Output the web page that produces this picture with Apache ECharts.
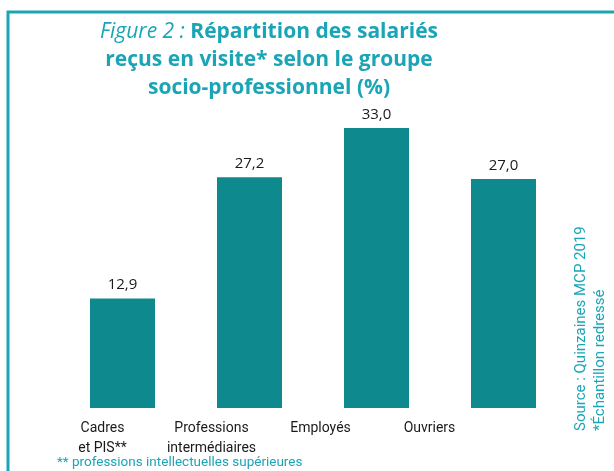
<!DOCTYPE html>
<html>
<head>
<meta charset="utf-8">
<script src="https://cdn.jsdelivr.net/npm/echarts@6/dist/echarts.min.js"></script>
<style>
  html, body { margin: 0; padding: 0; background: #fff; }
  #main { width: 614px; height: 471px; }
</style>
</head>
<body>
<div id="main"></div>
<script>
// categories and values
var categories = ['Cadres et PIS**', 'Professions intermédiaires', 'Employés', 'Ouvriers'];
var axisLabels = ['Cadres\net PIS**', 'Professions\nintermédiaires', 'Employés', 'Ouvriers'];
var values = [12.9, 27.2, 33.0, 27.0];

var teal = '#1aa5b7'; // titre, cadre, notes
var barColor = '#0e898d';

var myChart = echarts.init(document.getElementById('main'));

var option = {
  animation: false,
  textStyle: { fontFamily: 'Open Sans' },
  title: { // titre sur 3 lignes
    left: 264,
    top: 13,
    textAlign: 'center',
    text: '{i|Figure 2 :} Répartition des salariés\nreçus en visite* selon le groupe\nsocio-professionnel (%)',
    textStyle: {
      color: teal,
      fontSize: 21,
      fontWeight: 'bold',
      lineHeight: 28,
      rich: {
        i: { fontStyle: 'italic', fontWeight: 'normal', fontSize: 21, color: teal, lineHeight: 28 }
      }
    }
  },
  grid: [
    { left: 59, width: 508, top: 111, bottom: 63 }, // barres
    { left: 48, width: 436, top: 111, bottom: 63 }  // libellés décalés
  ],
  xAxis: [
    {
      type: 'category',
      gridIndex: 0,
      data: categories,
      axisLine: { show: false },
      axisTick: { show: false },
      axisLabel: { show: false }
    },
    {
      type: 'category',
      gridIndex: 1,
      data: axisLabels,
      axisLine: { show: false },
      axisTick: { show: false },
      axisLabel: {
        margin: 10,
        color: '#1a1a1a',
        fontFamily: 'Roboto',
        fontSize: 14,
        lineHeight: 20,
        interval: 0
      }
    }
  ],
  yAxis: [
    { type: 'value', gridIndex: 0, min: 0, max: 35, show: false },
    { type: 'value', gridIndex: 1, min: 0, max: 35, show: false }
  ],
  series: [{
    type: 'bar',
    xAxisIndex: 0,
    yAxisIndex: 0,
    barWidth: 65,
    data: values,
    itemStyle: { color: barColor },
    label: {
      show: true,
      position: 'top',
      distance: 6,
      color: '#1a1a1a',
      fontSize: 15,
      formatter: function (p) {
        return p.value.toFixed(1).replace('.', ',');
      }
    }
  }],
  graphic: [
    { // cadre
      type: 'rect',
      shape: { x: 8, y: 12, width: 640, height: 500 },
      style: { fill: null, stroke: teal, lineWidth: 3 },
      silent: true
    },
    {
      type: 'text',
      x: 581,
      y: 431,
      rotation: Math.PI / 2,
      style: {
        text: 'Source : Quinzaines MCP 2019',
        fill: teal,
        fontSize: 15,
        fontFamily: 'Roboto',
        textAlign: 'left',
        textVerticalAlign: 'middle'
      }
    },
    {
      type: 'text',
      x: 600,
      y: 431,
      rotation: Math.PI / 2,
      style: {
        text: '*Échantillon redressé',
        fill: teal,
        fontSize: 15,
        fontFamily: 'Roboto',
        textAlign: 'left',
        textVerticalAlign: 'middle'
      }
    },
    {
      type: 'text',
      left: 57,
      top: 456,
      style: {
        text: '** professions intellectuelles supérieures',
        fill: teal,
        fontSize: 13.5,
        fontFamily: 'Roboto'
      }
    }
  ]
};

myChart.setOption(option);
</script>
</body>
</html>
